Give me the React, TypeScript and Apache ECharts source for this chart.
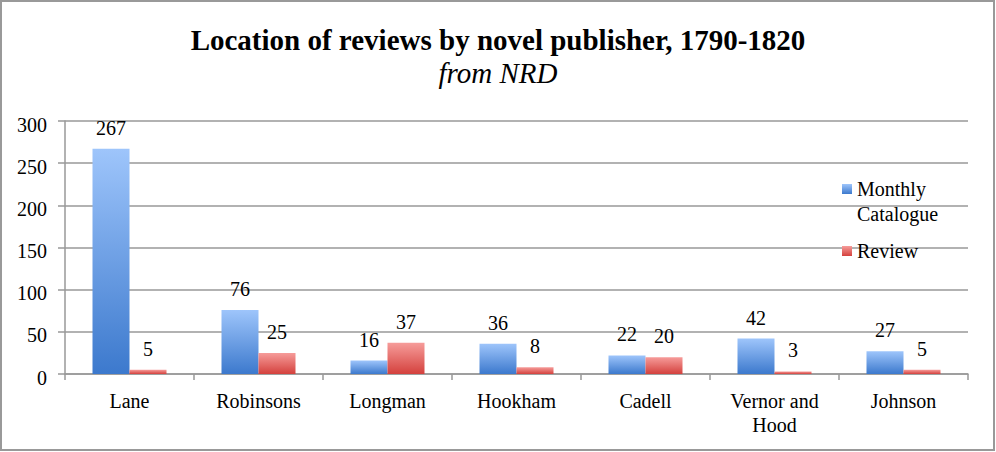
import React, { useEffect, useRef } from "react";
import * as echarts from "echarts";

const categories = ["Lane", "Robinsons", "Longman", "Hookham", "Cadell", "Vernor and\nHood", "Johnson"];
const monthlyCatalogue = [267, 76, 16, 36, 22, 42, 27];
const review = [5, 25, 37, 8, 20, 3, 5];
const yTicks = { min: 0, max: 300, interval: 50 };

const FONT = "'Liberation Serif', 'Times New Roman', serif";

const blueGrad = () =>
  new echarts.graphic.LinearGradient(0, 0, 0, 1, [
    { offset: 0, color: "#9ec5fb" },
    { offset: 1, color: "#3c79cd" },
  ]);
const redGrad = () =>
  new echarts.graphic.LinearGradient(0, 0, 0, 1, [
    { offset: 0, color: "#f69c9a" },
    { offset: 1, color: "#d4413d" },
  ]);

export default function App() {
  const ref = useRef<HTMLDivElement>(null);
  useEffect(() => {
    document.body.style.margin = "0";
    if (!ref.current) return;
    const chart = echarts.init(ref.current, null, { renderer: "svg" });
    const labelCommon = {
      show: true,
      position: "top" as const,
      distance: 11,
      fontFamily: FONT,
      fontSize: 20,
      color: "#000",
    };
    chart.setOption({
      animation: false,
      backgroundColor: "#fff",
      title: {
        text: "Location of reviews by novel publisher, 1790-1820",
        subtext: "from NRD",
        left: "center",
        top: 23,
        padding: 0,
        itemGap: 0,
        textStyle: { fontFamily: FONT, fontSize: 29, fontWeight: "bold", color: "#000", lineHeight: 33 },
        subtextStyle: { fontFamily: FONT, fontSize: 29, fontStyle: "italic", color: "#000", lineHeight: 33 },
      },
      legend: [
        {
          data: ["Monthly Catalogue"],
          orient: "vertical",
          left: 842,
          top: 151.5,
          padding: 0,
          icon: "rect",
          itemWidth: 10,
          itemHeight: 10,
          formatter: () => "\nMonthly\nCatalogue",
          textStyle: { fontFamily: FONT, fontSize: 20, color: "#000", lineHeight: 25 },
        },
        {
          data: ["Review"],
          orient: "vertical",
          left: 842,
          top: 238.5,
          padding: 0,
          icon: "rect",
          itemWidth: 10,
          itemHeight: 10,
          textStyle: { fontFamily: FONT, fontSize: 20, color: "#000", lineHeight: 25 },
        },
      ],
      grid: { left: 65, right: 28, top: 121, bottom: 78 },
      xAxis: {
        type: "category",
        data: categories,
        axisLine: { lineStyle: { color: "#999", width: 1.5 } },
        axisTick: { show: true, length: 6, lineStyle: { color: "#999", width: 1.5 } },
        axisLabel: { fontFamily: FONT, fontSize: 20, color: "#000", margin: 15, lineHeight: 24, interval: 0 },
      },
      yAxis: {
        type: "value",
        min: yTicks.min,
        max: yTicks.max,
        interval: yTicks.interval,
        axisLine: { show: true, lineStyle: { color: "#999", width: 1.5 } },
        axisTick: { show: true, length: 7, lineStyle: { color: "#999", width: 1.5 } },
        axisLabel: {
          fontFamily: FONT,
          fontSize: 20,
          color: "#000",
          margin: 18,
          verticalAlign: "top",
          lineHeight: 7,
        },
        splitLine: { lineStyle: { color: "#999", width: 1.5 } },
      },
      series: [
        {
          name: "Monthly Catalogue",
          type: "bar",
          data: monthlyCatalogue,
          barWidth: 37,
          barGap: "0%",
          itemStyle: { color: blueGrad() },
          label: labelCommon,
        },
        {
          name: "Review",
          type: "bar",
          data: review,
          barWidth: 37,
          barGap: "0%",
          itemStyle: { color: redGrad() },
          label: labelCommon,
        },
      ],
      graphic: [
        {
          type: "rect",
          shape: { x: 1, y: 1, width: 993, height: 449 },
          style: { fill: "none", stroke: "#999", lineWidth: 2 },
          silent: true,
          z: 100,
        },
      ],
    });
    return () => chart.dispose();
  }, []);
  return <div ref={ref} style={{ width: 996, height: 452 }} />;
}
